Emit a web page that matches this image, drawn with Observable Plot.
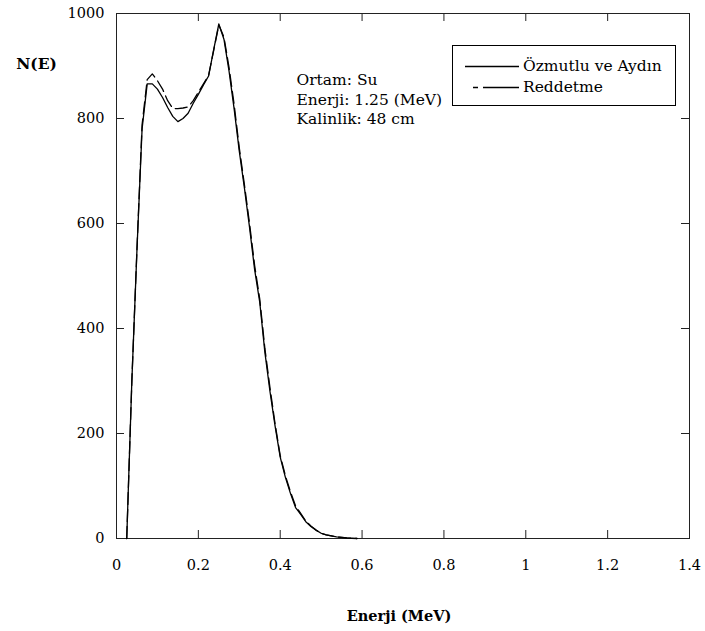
<!DOCTYPE html>
<html>
<head>
<meta charset="utf-8">
<script src="https://cdn.jsdelivr.net/npm/d3@7"></script>
<script src="https://cdn.jsdelivr.net/npm/@observablehq/plot@0.6"></script>
<style>
  html, body { margin: 0; padding: 0; background: #fff; }
  #wrap { position: relative; width: 705px; height: 631px; font-family: "DejaVu Serif", serif; }
  #legend { position: absolute; left: 452px; top: 45px; width: 222px; height: 59px; border: 1px solid #000; background: #fff; }
  #legend .row { position: absolute; left: 0; height: 20px; display: flex; align-items: center; font-size: 15.5px; color: #000; white-space: nowrap; }
  #legend svg { display: block; }
</style>
</head>
<body>
<div id="wrap"></div>
<script>
// ---- data ----
const energy = [0.025, 0.0375, 0.05, 0.0625, 0.075, 0.0875, 0.1, 0.1125, 0.125, 0.1375, 0.15, 0.1625, 0.175, 0.1875, 0.2, 0.2125, 0.225, 0.2375, 0.25, 0.2625, 0.275, 0.2875, 0.3, 0.3125, 0.325, 0.3375, 0.35, 0.3625, 0.375, 0.3875, 0.4, 0.4125, 0.425, 0.4375, 0.45, 0.4625, 0.475, 0.4875, 0.5, 0.5125, 0.525, 0.5375, 0.55, 0.5625, 0.575, 0.5875];
const ozmutlu = [0, 300, 550, 780, 866, 866, 856, 840, 821, 804, 794, 800, 810, 829, 846, 864, 881, 931, 980, 951, 890, 818, 738, 668, 593, 512, 450, 355, 280, 214, 155, 117, 86, 59, 46, 32, 23, 16, 10, 7, 5, 3, 2, 1, 0.5, 0];
const reddetme = [0, 300, 552, 788, 874, 885, 872, 856, 834, 819, 819, 820, 822, 834, 850, 866, 882, 930, 978, 955, 897, 826, 744, 674, 600, 520, 456, 362, 287, 218, 158, 120, 89, 62, 48, 33, 24, 16, 10, 7, 5, 3, 2, 1, 0.5, 0];
const seriesNames = ["Özmutlu ve Aydın", "Reddetme"];
const xTicks = [0, 0.2, 0.4, 0.6, 0.8, 1, 1.2, 1.4];
const yTicks = [0, 200, 400, 600, 800, 1000];
const xTitle = "Enerji (MeV)";
const yTitle = "N(E)";
const annotation = ["Ortam: Su", "Enerji: 1.25 (MeV)", "Kalinlik: 48 cm"];

// ---- layout ----
const W = 705, H = 631;
const mL = 116, mR = 16, mT = 13, mB = 93;
const pW = W - mL - mR, pH = H - mT - mB;
const font = "'DejaVu Serif', serif";

const rows = energy.map((e, i) => ({E: e, A: ozmutlu[i], B: reddetme[i]}));

const plot = Plot.plot({
  width: W, height: H,
  marginLeft: mL, marginRight: mR, marginTop: mT, marginBottom: mB,
  style: {fontFamily: font, fontSize: "14.5px", color: "#000", background: "#fff", overflow: "visible"},
  x: {domain: [0, 1.4]},
  y: {domain: [0, 1000]},
  marks: [
    Plot.frame({stroke: "#222", strokeWidth: 1}),
    // inward ticks: bottom, top
    Plot.tickX(xTicks, {x: d => d, insetTop: pH - 8, stroke: "#222"}),
    Plot.tickX(xTicks, {x: d => d, insetBottom: pH - 8, stroke: "#222"}),
    // inward ticks: left, right
    Plot.tickY(yTicks, {y: d => d, insetRight: pW - 8, stroke: "#222"}),
    Plot.tickY(yTicks, {y: d => d, insetLeft: pW - 8, stroke: "#222"}),
    Plot.axisX({ticks: xTicks, tickSize: 0, tickPadding: 21, label: null, tickFormat: d => String(d), fontSize: 14.5}),
    Plot.axisY({ticks: yTicks, tickSize: 0, tickPadding: 12, label: null, tickFormat: d => String(d), fontSize: 14.5}),
    Plot.line(rows, {x: "E", y: "A", stroke: "#000", strokeWidth: 1.3}),
    Plot.line(rows, {x: "E", y: "B", stroke: "#000", strokeWidth: 1.3, strokeDasharray: "12,5"}),
    // axis titles
    Plot.text([yTitle], {text: d => d, frameAnchor: "top-left", dx: -80, dy: 51, textAnchor: "middle", lineAnchor: "middle", fontWeight: "bold", fontSize: 15.5}),
    Plot.text([xTitle], {text: d => d, frameAnchor: "bottom", dx: -4, dy: 78, textAnchor: "middle", lineAnchor: "middle", fontWeight: "bold", fontSize: 14.5}),
    // annotation block
    ...annotation.map((t, i) => Plot.text([t], {text: d => d, frameAnchor: "top-left", dx: 180, dy: 67 + i * 19.5, textAnchor: "start", lineAnchor: "middle", fontSize: 15.5}))
  ]
});

const wrap = document.getElementById("wrap");
wrap.appendChild(plot);

// ---- legend ----
const legend = document.createElement("div");
legend.id = "legend";
const samples = [
  {top: 10, dash: null, x1: 12, x2: 66},
  {top: 31, dash: "5,5,40", x1: 20, x2: 66}
];
seriesNames.forEach((name, i) => {
  const s = samples[i];
  const row = document.createElement("div");
  row.className = "row";
  row.style.top = s.top + "px";
  const svg = d3.create("svg").attr("width", 70).attr("height", 20);
  svg.append("line").attr("x1", s.x1).attr("x2", s.x2).attr("y1", 10.5).attr("y2", 10.5)
    .attr("stroke", "#000").attr("stroke-width", 1.3).attr("stroke-dasharray", s.dash);
  row.appendChild(svg.node());
  const span = document.createElement("span");
  span.textContent = name;
  row.appendChild(span);
  legend.appendChild(row);
});
wrap.appendChild(legend);
</script>
</body>
</html>
